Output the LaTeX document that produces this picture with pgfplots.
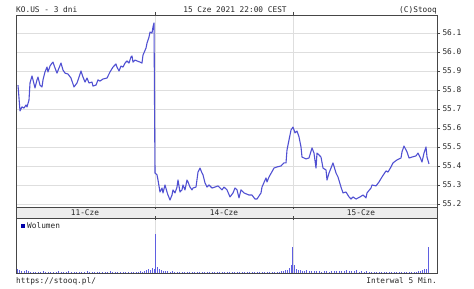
\documentclass[border=0pt]{standalone}
\usepackage{fontspec}
\setmainfont{DejaVu Sans Mono}
\usepackage{pgfplots}
\pgfplotsset{compat=1.18}
\definecolor{priceline}{RGB}{80,80,210}
\definecolor{volbar}{RGB}{95,95,225}
\definecolor{legsq}{RGB}{0,0,170}
\definecolor{gridc}{RGB}{222,222,222}
\definecolor{framec}{RGB}{70,70,70}
\newcommand\f{\fontsize{7.8bp}{9bp}\selectfont}
\begin{document}
\begin{tikzpicture}
\path[use as bounding box] (0bp,0bp) rectangle (474bp,289bp);
% price panel
\begin{axis}[
  at={(16bp,82bp)}, anchor=south west,
  width=421bp, height=192bp, scale only axis,
  xmin=16, xmax=437, ymin=55.184, ymax=56.195,
  axis line style={framec},
  xtick={155,293}, xticklabels={}, xmajorgrids,
  ytick={55.2,55.3,55.4,55.5,55.6,55.7,55.8,55.9,56.0,56.1},
  ymajorgrids, grid style={gridc, line width=0.9pt},
  yticklabel pos=right, ytick pos=right, xtick pos=upper,
  tick align=outside, major tick length=3bp,
  tick style={framec, line width=0.5pt},
  /pgf/number format/assume math mode=true,
  /pgf/number format/.cd, fixed, fixed zerofill, precision=1, /pgfplots/.cd,
  yticklabel style={font=\f, xshift=-1bp, text=black!85},
]
\addplot[priceline, line width=1.1pt, line join=round] coordinates {
(18,55.826)(20,55.690)(22,55.711)(24,55.705)(26,55.721)(27,55.711)(29,55.747)(30,55.837)
(32,55.874)(33,55.853)(35,55.811)(37,55.853)(38,55.868)(40,55.826)(42,55.816)(43,55.853)
(45,55.895)(47,55.921)(48,55.895)(50,55.926)(52,55.942)(53,55.947)(55,55.916)(57,55.889)
(59,55.916)(61,55.942)(63,55.905)(65,55.889)(68,55.884)(71,55.863)(74,55.816)(77,55.837)
(79,55.868)(81,55.900)(83,55.868)(85,55.842)(87,55.863)(89,55.837)(92,55.842)(93,55.821)
(96,55.826)(98,55.853)(100,55.847)(103,55.858)(107,55.863)(110,55.895)(113,55.921)(116,55.937)
(117,55.921)(119,55.900)(121,55.926)(123,55.921)(125,55.942)(127,55.953)(129,55.942)(131,55.974)
(132,55.979)(133,55.947)(135,55.958)(137,55.953)(140,55.947)(142,55.942)(143,55.984)(146,56.021)
(147,56.047)(149,56.079)(150,56.105)(152,56.100)(153,56.132)(154,56.153)
(155,55.363)(157,55.353)(158,55.326)(160,55.263)(162,55.284)(163,55.258)(165,55.300)(167,55.263)
(168,55.247)(170,55.221)(172,55.247)(173,55.274)(175,55.258)(177,55.289)(178,55.326)(180,55.263)
(182,55.274)(183,55.300)(185,55.274)(187,55.326)(188,55.316)(190,55.289)(192,55.274)(193,55.284)
(196,55.289)(198,55.368)(200,55.389)(202,55.363)(203,55.353)(205,55.311)(207,55.289)(209,55.300)
(212,55.284)(215,55.289)(218,55.295)(222,55.274)(224,55.289)(227,55.274)(230,55.237)(233,55.258)
(235,55.284)(237,55.274)(239,55.232)(241,55.274)(244,55.258)(249,55.247)(252,55.247)(255,55.226)
(257,55.226)(261,55.258)(262,55.289)(266,55.337)(267,55.316)(269,55.342)(274,55.389)(277,55.395)
(281,55.400)(284,55.416)(286,55.416)(287,55.484)(289,55.537)(291,55.589)(293,55.605)
(295,55.574)(297,55.584)(299,55.553)(301,55.500)(302,55.447)(306,55.437)(309,55.442)(312,55.495)
(314,55.468)(316,55.389)(317,55.468)(319,55.458)(321,55.447)(323,55.389)(326,55.379)(327,55.326)
(329,55.363)(331,55.389)(333,55.416)(336,55.363)(338,55.342)(341,55.289)(343,55.258)(346,55.263)
(349,55.237)(351,55.226)(353,55.237)(356,55.226)(360,55.237)(363,55.247)(366,55.232)(367,55.258)
(371,55.284)(372,55.300)(376,55.295)(379,55.316)(382,55.342)(386,55.374)(388,55.368)(391,55.395)
(393,55.416)(397,55.432)(401,55.442)(402,55.474)(404,55.505)(407,55.474)(409,55.442)(412,55.447)
(416,55.453)(418,55.468)(420,55.447)(422,55.421)(424,55.468)(426,55.500)(427,55.447)(429,55.411)
};
\end{axis}
% volume panel
\begin{axis}[
  at={(16bp,16bp)}, anchor=south west,
  width=421bp, height=55bp, scale only axis,
  xmin=16, xmax=437, ymin=0, ymax=55,
  axis line style={framec},
  xtick={155,293}, xticklabels={}, xmajorgrids, xtick pos=upper,
  tick align=inside, major tick length=2bp, tick style={framec},
  ytick=\empty,
  grid style={gridc, line width=0.9pt},
]
\addplot[ycomb, volbar, line width=1bp, no marks] coordinates {
(17,4)(19,3)(21,2)(24,2)(26,3)(28,2)(30,1)(33,1)(35,1)(38,1)(40,1)(43,2)(45,1)(48,1)(50,1)
(53,1)(56,1)(58,2)(61,1)(63,1)(66,1)(68,2)(71,1)(74,1)(76,1)(79,1)(81,1)(84,1)(87,2)(89,1)
(92,1)(94,1)(97,1)(99,1)(102,1)(105,1)(107,1)(110,2)(112,1)(115,1)(117,1)(120,1)(123,1)(125,1)
(128,1)(131,1)(133,1)(136,1)(138,1)(140,2)(142,1)(144,2)(146,3)(148,4)(150,3)(152,5)(154,4)
(155,39)
(157,6)(159,4)(161,3)(163,2)(165,2)(167,2)(170,1)(172,2)(174,1)(177,1)(179,1)(182,1)(184,1)
(187,1)(189,1)(192,1)(194,1)(197,1)(199,1)(202,1)(204,1)(207,1)(209,1)(212,1)(214,1)(217,1)
(219,1)(222,1)(224,1)(227,1)(229,1)(232,1)(234,1)(237,1)(239,1)(242,1)(244,1)(247,1)(249,1)
(252,1)(254,1)(257,1)(259,1)(262,1)(264,1)(267,1)(269,1)(272,1)(274,1)(277,1)(279,1)(281,2)
(283,2)(285,3)(287,3)(289,5)(291,8)(292,26)
(294,8)(296,4)(298,3)(300,3)(302,2)(304,2)(306,3)(309,2)(311,2)(314,2)(316,2)(319,2)(321,1)
(324,2)(326,2)(329,1)(331,2)(334,2)(336,2)(339,2)(341,2)(344,2)(346,3)(349,2)(351,2)(354,2)
(356,3)(359,1)(361,2)(364,1)(366,2)(369,1)(371,1)(374,1)(376,1)(379,1)(381,1)(384,1)(386,1)
(389,1)(391,1)(394,1)(396,1)(399,1)(401,1)(404,1)(406,1)(409,1)(411,1)(414,1)(416,1)(418,2)
(420,2)(422,3)(424,4)(426,4)(428,26)
};
\end{axis}
% date band
\fill[gray!14] (16bp,71bp) rectangle (437bp,82bp);
\draw[framec, line width=0.6pt] (16bp,71bp) rectangle (437bp,82bp);
\draw[framec] (155bp,71bp) -- (155bp,73bp) (155bp,80bp) -- (155bp,82bp) (293bp,71bp) -- (293bp,73bp) (293bp,80bp) -- (293bp,82bp);
\node[font=\f, text=black!85, inner sep=0] at (85bp,76.5bp) {11-Cze};
\node[font=\f, text=black!85, inner sep=0] at (224bp,76.5bp) {14-Cze};
\node[font=\f, text=black!85, inner sep=0] at (361bp,76.5bp) {15-Cze};
% legend
\fill[legsq] (20.5bp,61bp) rectangle (24.5bp,65bp);
\node[font=\f, text=black!85, anchor=west, inner sep=0] at (27bp,63bp) {Wolumen};
% titles
\node[font=\f, text=black!85, anchor=west, inner sep=0] at (16bp,279bp) {KO.US - 3 dni};
\node[font=\f, text=black!85, inner sep=0] at (235bp,279bp) {15 Cze 2021 22:00 CEST};
\node[font=\f, text=black!85, anchor=east, inner sep=0] at (437bp,279bp) {(C)Stooq};
\node[font=\f, text=black!85, anchor=west, inner sep=0] at (16bp,8bp) {https://stooq.pl/};
\node[font=\f, text=black!85, anchor=east, inner sep=0] at (437bp,8bp) {Interwal 5 Min.};
\end{tikzpicture}
\end{document}
